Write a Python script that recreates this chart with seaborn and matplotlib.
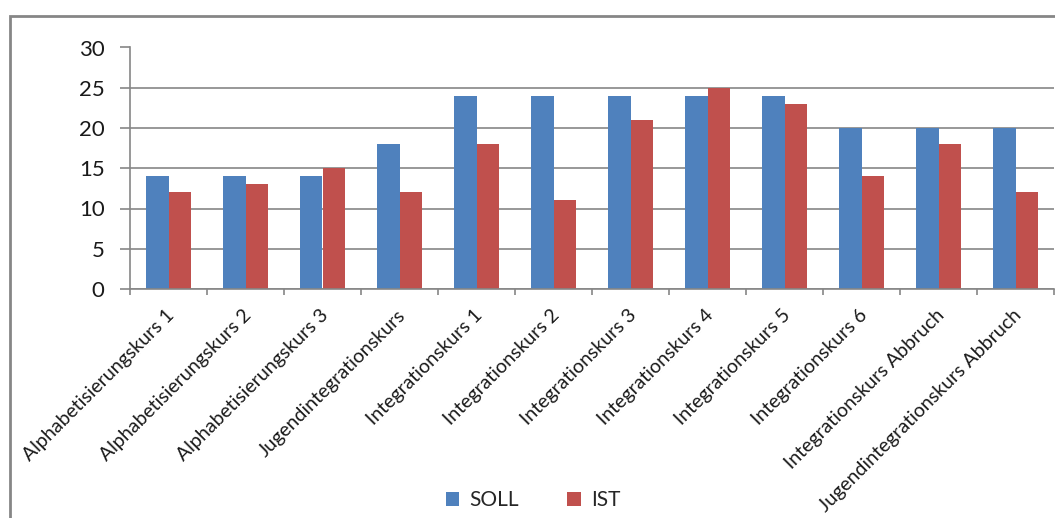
import matplotlib
matplotlib.use("Agg")
import matplotlib.pyplot as plt
import matplotlib.transforms as mtransforms
from matplotlib.patches import Rectangle, Patch
import seaborn as sns
import pandas as pd

kurse = [
    "Alphabetisierungskurs 1", "Alphabetisierungskurs 2", "Alphabetisierungskurs 3",
    "Jugendintegrationskurs", "Integrationskurs 1", "Integrationskurs 2",
    "Integrationskurs 3", "Integrationskurs 4", "Integrationskurs 5",
    "Integrationskurs 6", "Integrationskurs Abbruch", "Jugendintegrationskurs Abbruch",
]
soll = [14, 14, 14, 18, 24, 24, 24, 24, 24, 20, 20, 20]
ist = [12, 13, 15, 12, 18, 11, 21, 25, 23, 14, 18, 12]
series_names = ["SOLL", "IST"]
y_ticks = [0, 5, 10, 15, 20, 25, 30]

BLUE = "#4F81BD"
RED = "#C0504D"
GRAY = "#868686"

df = pd.DataFrame({
    "Kurs": kurse * 2,
    "Reihe": [series_names[0]] * len(kurse) + [series_names[1]] * len(kurse),
    "Wert": soll + ist,
})

sns.set_style("white")
plt.rcParams["font.family"] = ["Lato", "DejaVu Sans"]

W, H = 1055, 518
fig = plt.figure(figsize=(W / 100, H / 100), dpi=100)
ax = fig.add_axes([130 / W, 1 - 289 / H, (1054 - 130) / W, (289 - 47.5) / H])

sns.barplot(data=df, x="Kurs", y="Wert", hue="Reihe", palette=[BLUE, RED],
            width=0.585, saturation=1, gap=0, dodge=True, ax=ax, legend=False,
            errorbar=None, linewidth=0, edgecolor="none")

ax.set_ylim(0, 30)
ax.set_xlim(-0.5, len(kurse) - 0.5)
ax.set_yticks(y_ticks)
ax.set_yticklabels([str(v) for v in y_ticks], fontsize=16, color="#1a1a1a")
ax.set_xlabel("")
ax.set_ylabel("")
ax.yaxis.grid(True, color=GRAY, linewidth=1.2)
ax.set_axisbelow(True)
for s in ["top", "right"]:
    ax.spines[s].set_visible(False)
for s in ["left", "bottom"]:
    ax.spines[s].set_color(GRAY)
    ax.spines[s].set_linewidth(1.2)

ax.tick_params(axis="y", length=7.2, width=1.2, color=GRAY, pad=11, direction="out", left=True)
ax.set_xticks(range(len(kurse)))
ax.set_xticklabels(kurse, rotation=45, ha="right", va="center",
                   rotation_mode="anchor", fontsize=14, color="#1a1a1a")
ax.tick_params(axis="x", which="major", length=0, pad=17)
ax.set_xticks([i - 0.5 for i in range(len(kurse) + 1)], minor=True)
ax.tick_params(axis="x", which="minor", length=4.5, width=1.2, color=GRAY,
               direction="out", bottom=True)
offset = mtransforms.ScaledTranslation(3 / 100, 0, fig.dpi_scale_trans)
for lbl in ax.get_xticklabels():
    lbl.set_transform(lbl.get_transform() + offset)

handles = [Patch(facecolor=BLUE, edgecolor="none"), Patch(facecolor=RED, edgecolor="none")]
fig.legend(handles, series_names, loc="center", bbox_to_anchor=(533 / W, 1 - 500 / H),
           ncol=2, frameon=False, fontsize=15, handlelength=0.65, handleheight=0.65,
           handletextpad=0.5, columnspacing=2.3)

fig.patches.append(Rectangle((10 / W, -0.2), 1.2, 1.2 - 16 / H,
                             transform=fig.transFigure, fill=False,
                             edgecolor=GRAY, linewidth=2, zorder=0))

fig.savefig("out.png", dpi=100)
